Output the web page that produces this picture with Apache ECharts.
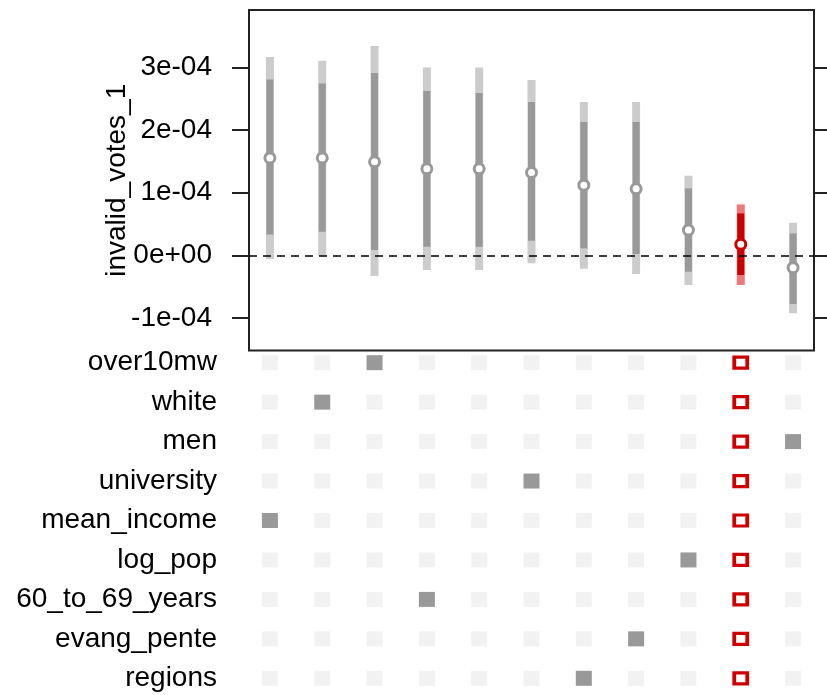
<!DOCTYPE html>
<html>
<head>
<meta charset="utf-8">
<script src="https://cdn.jsdelivr.net/npm/echarts@6/dist/echarts.min.js"></script>
<style>
  html, body { margin: 0; padding: 0; background: #ffffff; }
  #chart { width: 827px; height: 695px; }
</style>
</head>
<body>
<div id="chart"></div>
<script>
// Control variables shown in the indicator panel (top to bottom)
const controls = ['over10mw', 'white', 'men', 'university', 'mean_income',
                  'log_pop', '60_to_69_years', 'evang_pente', 'regions'];

// Controls included in each specification, in plotted order
const specControls = [
  ['mean_income'],
  ['white'],
  ['over10mw'],
  ['60_to_69_years'],
  [],
  ['university'],
  ['regions'],
  ['evang_pente'],
  ['log_pop'],
  ['over10mw', 'white', 'men', 'university', 'mean_income',
   'log_pop', '60_to_69_years', 'evang_pente', 'regions'],
  ['men']
];

// Coefficient of invalid_votes_1 in each specification
const estimate  = [1.557e-4, 1.557e-4, 1.494e-4, 1.382e-4, 1.382e-4, 1.324e-4, 1.122e-4, 1.063e-4, 0.404e-4, 0.176e-4, -0.197e-4];
// Wide interval
const outerLow  = [-0.064e-4, -0.011e-4, -0.330e-4, -0.235e-4, -0.235e-4, -0.128e-4, -0.213e-4, -0.298e-4, -0.474e-4, -0.474e-4, -0.926e-4];
const outerHigh = [3.170e-4, 3.110e-4, 3.345e-4, 3.000e-4, 3.000e-4, 2.800e-4, 2.450e-4, 2.450e-4, 1.270e-4, 0.814e-4, 0.520e-4];
// Narrow interval
const innerLow  = [0.335e-4, 0.377e-4, 0.085e-4, 0.138e-4, 0.138e-4, 0.234e-4, 0.112e-4, 0.021e-4, -0.261e-4, -0.314e-4, -0.777e-4];
const innerHigh = [2.810e-4, 2.745e-4, 2.914e-4, 2.627e-4, 2.595e-4, 2.451e-4, 2.132e-4, 2.132e-4, 1.070e-4, 0.670e-4, 0.351e-4];

// The full-controls specification is drawn in red
const highlightSpec = 9;

// Y axis ticks
const yTickValues = [-1e-4, 0, 1e-4, 2e-4, 3e-4];
const yTickLabels = ['-1e-04', '0e+00', '1e-04', '2e-04', '3e-04'];

const COL = {
  lightGray: '#cccccc',
  darkGray: '#999999',
  lightRed: '#f07878',
  darkRed: '#cd0000',
  offCell: '#f2f2f2'
};

const specX = estimate.map((_, i) => i + 1);
const rowIndex = controls.map((_, r) => r);
const FONT = '"Liberation Sans", Arial, sans-serif';

function tickLabel(v) {
  let best = 0;
  for (let i = 1; i < yTickValues.length; i++) {
    if (Math.abs(yTickValues[i] - v) < Math.abs(yTickValues[best] - v)) best = i;
  }
  return yTickLabels[best];
}

function intervalSeries(low, high, width, grayColor, redColor, z) {
  return {
    type: 'custom',
    xAxisIndex: 0,
    yAxisIndex: 0,
    z: z,
    silent: true,
    data: specX.map((x, i) => [x, low[i], high[i]]),
    renderItem: function (params, api) {
      const a = api.coord([api.value(0), api.value(1)]);
      const b = api.coord([api.value(0), api.value(2)]);
      return {
        type: 'line',
        shape: { x1: a[0], y1: a[1], x2: b[0], y2: b[1] },
        style: {
          stroke: params.dataIndex === highlightSpec ? redColor : grayColor,
          lineWidth: width,
          lineCap: 'butt'
        }
      };
    }
  };
}

// Indicator cells: off, on (gray) and the highlighted specification (red outline)
const offCells = [], onCells = [], redCells = [];
specControls.forEach((set, i) => {
  controls.forEach((c, r) => {
    if (i === highlightSpec) redCells.push([specX[i], r]);
    else if (set.indexOf(c) >= 0) onCells.push([specX[i], r]);
    else offCells.push([specX[i], r]);
  });
});

const chart = echarts.init(document.getElementById('chart'), null, { renderer: 'canvas' });

chart.setOption({
  animation: false,
  backgroundColor: '#ffffff',
  textStyle: { fontFamily: FONT },
  grid: [
    { left: 249, right: 13, top: 10, height: 340.5, show: true,
      borderColor: '#222222', borderWidth: 2, backgroundColor: 'transparent' },
    { left: 249, right: 13, top: 354.8, height: 331.4, show: false }
  ],
  xAxis: [
    { gridIndex: 0, type: 'value', min: 0.6, max: 11.4,
      axisLine: { show: false }, axisTick: { show: false },
      axisLabel: { show: false }, splitLine: { show: false } },
    { gridIndex: 1, type: 'value', min: 0.6, max: 11.4,
      axisLine: { show: false }, axisTick: { show: false },
      axisLabel: { show: false }, splitLine: { show: false } }
  ],
  yAxis: [
    { gridIndex: 0, type: 'value', min: -1.52e-4, max: 3.92e-4, position: 'left',
      name: 'invalid_votes_1', nameLocation: 'middle', nameRotate: 90, nameGap: 118,
      nameMoveOverlap: false,
      nameTextStyle: { fontSize: 28, color: '#000000', fontFamily: FONT },
      axisLine: { show: false },
      axisTick: { show: true, length: 17, inside: false, customValues: yTickValues,
        lineStyle: { color: '#222222', width: 2 } },
      axisLabel: { show: true, customValues: yTickValues, formatter: tickLabel,
        fontSize: 28, color: '#000000', margin: 37, fontFamily: FONT },
      splitLine: { show: false } },
    { gridIndex: 0, type: 'value', min: -1.52e-4, max: 3.92e-4, position: 'right',
      axisLine: { show: false },
      axisTick: { show: true, length: 17, inside: false, customValues: yTickValues,
        lineStyle: { color: '#222222', width: 2 } },
      axisLabel: { show: false },
      splitLine: { show: false } },
    { gridIndex: 1, type: 'value', min: -0.2, max: 8.2, inverse: true,
      axisLine: { show: false }, axisTick: { show: false },
      axisLabel: { show: true, customValues: rowIndex,
        formatter: v => controls[Math.round(v)],
        fontSize: 28, color: '#000000', margin: 32, fontFamily: FONT },
      splitLine: { show: false } }
  ],
  series: [
    // Zero reference line
    { type: 'line', xAxisIndex: 0, yAxisIndex: 0, z: 1, data: [], silent: true,
      markLine: { silent: true, symbol: ['none', 'none'], label: { show: false },
        lineStyle: { color: '#000000', width: 1.6, type: [8, 6], opacity: 1 },
        data: [{ yAxis: 0 }] } },
    intervalSeries(outerLow, outerHigh, 8, COL.lightGray, COL.lightRed, 2),
    intervalSeries(innerLow, innerHigh, 7, COL.darkGray, COL.darkRed, 3),
    // Point estimates
    { type: 'scatter', xAxisIndex: 0, yAxisIndex: 0, z: 4, silent: true,
      symbol: 'circle', symbolSize: 10,
      data: specX.map((x, i) => ({
        value: [x, estimate[i]],
        itemStyle: { color: '#ffffff', opacity: 1,
          borderColor: i === highlightSpec ? COL.darkRed : COL.darkGray, borderWidth: 3 }
      })) },
    // Indicator panel
    { type: 'scatter', xAxisIndex: 1, yAxisIndex: 2, silent: true,
      symbol: 'rect', symbolSize: [16, 15],
      itemStyle: { color: COL.offCell, opacity: 1 }, data: offCells },
    { type: 'scatter', xAxisIndex: 1, yAxisIndex: 2, silent: true,
      symbol: 'rect', symbolSize: [16, 15],
      itemStyle: { color: COL.darkGray, opacity: 1 }, data: onCells },
    { type: 'scatter', xAxisIndex: 1, yAxisIndex: 2, silent: true,
      symbol: 'rect', symbolSize: [13, 11],
      itemStyle: { color: '#ffffff', borderColor: COL.darkRed, borderWidth: 3.5, opacity: 1 },
      data: redCells }
  ]
});
</script>
</body>
</html>
